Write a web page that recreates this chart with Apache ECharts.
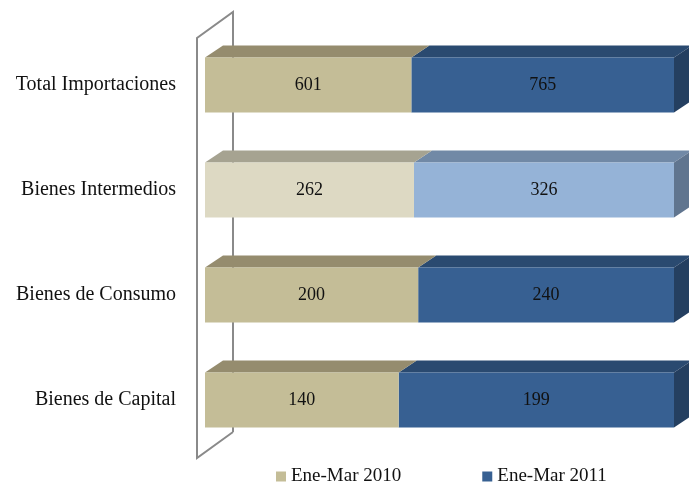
<!DOCTYPE html>
<html><head><meta charset="utf-8">
<script src="https://cdn.jsdelivr.net/npm/echarts@6/dist/echarts.min.js"></script>
<style>html,body{margin:0;padding:0;background:#fff}#c{width:689px;height:483px}</style>
</head><body><div id="c"></div>
<script>
const categories = ['Total Importaciones', 'Bienes Intermedios', 'Bienes de Consumo', 'Bienes de Capital'];
const seriesNames = ['Ene-Mar 2010', 'Ene-Mar 2011'];
const values2010 = [601, 262, 200, 140];
const values2011 = [765, 326, 240, 199];

const DX = 18, DY = 12;
const FONT = 'Liberation Serif';
const pal = {
  normal: [{front:'#c4bd97', top:'#958c6e'}, {front:'#376092', top:'#2a4a70', side:'#243f60'}],
  light:  [{front:'#ddd9c3', top:'#a6a391'}, {front:'#95b3d7', top:'#7189a6', side:'#60758f'}]
};

const chart = echarts.init(document.getElementById('c'));

function makeRender(si) {
  return function (params, api) {
    const cat = api.value(0);
    const a = api.value(1), b = api.value(2);
    const tot = a + b;
    const s0 = si === 0 ? 0 : a / tot;
    const s1 = si === 0 ? a / tot : 1;
    const p0 = api.coord([s0, cat]);
    const p1 = api.coord([s1, cat]);
    const bh = api.size([0, 1])[1] * 0.524;
    const y0 = p0[1] - bh / 2, y1 = p0[1] + bh / 2;
    const x0 = p0[0], x1 = p1[0];
    const cols = (cat === 1 ? pal.light : pal.normal)[si];
    const children = [
      {type:'polygon', shape:{points:[[x0,y0],[x0+DX,y0-DY],[x1+DX,y0-DY],[x1,y0]]}, style:{fill:cols.top}},
      {type:'rect', shape:{x:x0, y:y0, width:x1-x0, height:y1-y0}, style:{fill:cols.front}},
      {type:'text', style:{text:String(si === 0 ? a : b), x:(x0+x1)/2, y:(y0+y1)/2, align:'center', verticalAlign:'middle', fill:'#111', font:'18px "'+FONT+'"'}}
    ];
    if (si === 1) {
      children.push({type:'polygon', shape:{points:[[x1,y0],[x1+DX,y0-DY],[x1+DX,y1-DY],[x1,y1]]}, style:{fill:cols.side}});
    }
    return {type:'group', children};
  };
}

const data = categories.map((c, i) => [i, values2010[i], values2011[i]]);

chart.setOption({
  animation: false,
  grid: {left: 205, right: 15, top: 32.5, bottom: 30.5, containLabel: false},
  xAxis: {type:'value', min:0, max:1, show:false},
  yAxis: {type:'category', data: categories, inverse:true,
    axisLine:{show:false}, axisTick:{show:false},
    axisLabel:{margin:29, color:'#111', fontFamily:FONT, fontSize:20}},
  legend: {top: 467, left: 276, itemGap: 81, itemWidth: 10, itemHeight: 10, icon: 'rect', padding: 0,
    textStyle:{fontFamily:FONT, fontSize:19, color:'#111'}, data: seriesNames},
  series: [
    {type:'custom', name: seriesNames[0], renderItem: makeRender(0), data, itemStyle:{color:pal.normal[0].front}, encode:{x:[1], y:0}, z:3},
    {type:'custom', name: seriesNames[1], renderItem: makeRender(1), data, itemStyle:{color:pal.normal[1].front}, encode:{x:[2], y:0}, z:2}
  ]
});

// 3D axis wall bracket (decoration), positioned relative to the grid
const gTop = chart.convertToPixel({yAxisIndex:0}, 0) - 73;
const gBot = chart.convertToPixel({yAxisIndex:0}, 3) + 32;
const fx = 205 + 28, bx = 205 - 8;
chart.setOption({graphic: [
  {type:'polyline', z:-1, silent:true,
   shape:{points:[[fx, gBot], [fx, gTop], [bx, gTop + 26], [bx, gBot + 26], [fx, gBot]]},
   style:{stroke:'#8a8a8a', lineWidth:2, fill:null}}
]});
</script></body></html>
